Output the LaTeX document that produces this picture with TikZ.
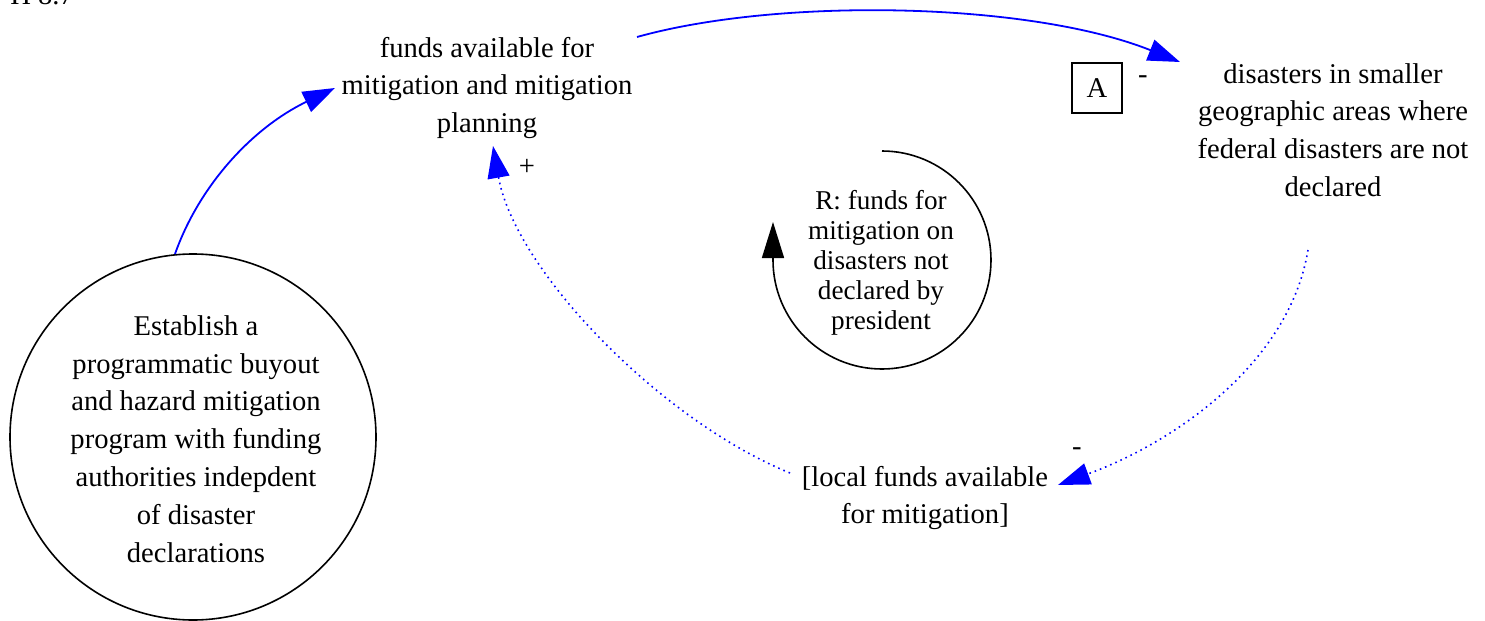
\documentclass[tikz,border=0pt]{standalone}
\usepackage{fontspec}
\setmainfont{Liberation Serif}
\usetikzlibrary{arrows.meta,calc}
\begin{document}
\begin{tikzpicture}[x=0.5pt,y=-0.5pt,
  lbl/.style={font=\fontsize{14.3pt}{18.9pt}\selectfont, align=center, inner sep=0pt},
  looplbl/.style={font=\fontsize{13.6pt}{15pt}\selectfont, align=center, inner sep=0pt},
  blueline/.style={draw=blue, line width=0.9pt, -{Triangle[length=16pt,width=11pt]}, blue},
  bluedot/.style={draw=blue, line width=0.8pt, dotted, -{Triangle[length=16pt,width=11pt]}, blue},
  sign/.style={font=\fontsize{14.3pt}{18.9pt}\selectfont, inner sep=0pt}]
\useasboundingbox (0,0) rectangle (1485,621);
\clip (0,0) rectangle (1485,621);

\node[lbl, anchor=base west] (hdr) at (10,4) {H 8.7};

\node[lbl] (funds) at (487,88) {funds available for\\mitigation and mitigation\\planning};
\node[lbl] (dis) at (1333,130) {disasters in smaller\\geographic areas where\\federal disasters are not\\declared};
\node[lbl] (local) at (925,498) {[local funds available\\for mitigation]};

\node[circle, draw, line width=0.8pt, minimum size=183pt, inner sep=0pt] (est) at (193,437) {};
\node[lbl] (esttxt) at (196,439) {Establish a\\programmatic buyout\\and hazard mitigation\\program with funding\\authorities indepdent\\of disaster\\declarations};

\node[draw, line width=0.8pt, minimum size=25pt, inner sep=0pt, font=\fontsize{14.3pt}{18.9pt}\selectfont] (A) at (1097,88) {A};
\node[sign] (mA) at (1143,80) {-};
\node[sign] (plus) at (527,167) {+};
\node[sign] (mL) at (1077,452) {-};

\node[looplbl] (loop) at (881,263) {R: funds for\\mitigation on\\disasters not\\declared by\\president};
\coordinate (lc) at (882,260);
\draw[line width=0.8pt, -{Triangle[length=18pt,width=11pt]}] ($(lc)+(-90:109)$) arc[start angle=-90, end angle=180, radius=109] -- ++(0,-38);

\coordinate (s1) at (175,254);
\coordinate (e1) at (335,88);
\draw[blueline] (s1) .. controls (199,186) and (252,128) .. (e1);

\coordinate (s2) at (637,37);
\coordinate (e2) at (1180,62);
\draw[blueline] (s2) .. controls (780,-3) and (1030,2) .. (e2);

\coordinate (s3) at (1308,250);
\coordinate (e3) at (1058,485);
\draw[bluedot] (s3) .. controls (1290,360) and (1180,440) .. (e3);

\coordinate (s4) at (790,473);
\coordinate (e4) at (493,146);
\draw[bluedot] (s4) .. controls (660,420) and (515,270) .. (e4);
\end{tikzpicture}
\end{document}
